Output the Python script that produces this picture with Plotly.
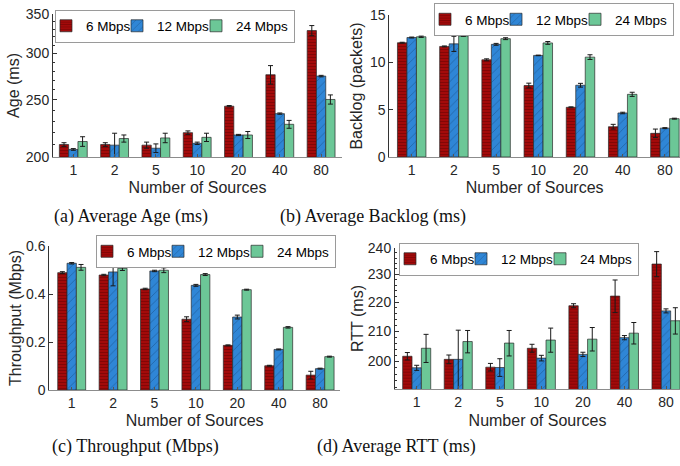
import plotly.graph_objects as go
import math

categories = ["1", "2", "5", "10", "20", "40", "80"]
series_names = ["6 Mbps", "12 Mbps", "24 Mbps"]

age_6 = [210, 210, 209.5, 220, 244, 276, 328]
age_6_err = [1.5, 1.5, 2.5, 1.5, 0.6, 10, 6.5]
age_12 = [206, 209.5, 207, 211, 218, 237, 274.5]
age_12_err = [0.7, 10, 3.5, 1, 0.5, 0.6, 0.8]
age_24 = [212.5, 215, 215.5, 216, 218, 227.3, 250.5]
age_24_err = [4, 3, 4, 3.5, 3, 3.5, 4.5]

bl_6 = [12.07, 11.68, 10.27, 7.55, 5.25, 3.2, 2.5]
bl_6_err = [0.05, 0.05, 0.1, 0.25, 0.05, 0.25, 0.45]
bl_12 = [12.62, 11.95, 11.9, 10.73, 7.58, 4.65, 3.05]
bl_12_err = [0.05, 0.8, 0.1, 0.03, 0.2, 0.08, 0.05]
bl_24 = [12.7, 12.78, 12.5, 12.05, 10.55, 6.62, 4.05]
bl_24_err = [0.07, 0.03, 0.1, 0.15, 0.25, 0.22, 0.05]

tp_6 = [0.489, 0.479, 0.421, 0.295, 0.186, 0.101, 0.062]
tp_6_err = [0.004, 0.003, 0.003, 0.01, 0.002, 0.002, 0.016]
tp_12 = [0.528, 0.492, 0.496, 0.436, 0.304, 0.169, 0.089]
tp_12_err = [0.003, 0.058, 0.003, 0.004, 0.008, 0.002, 0.002]
tp_24 = [0.511, 0.507, 0.499, 0.481, 0.418, 0.261, 0.139]
tp_24_err = [0.012, 0.009, 0.01, 0.004, 0.002, 0.003, 0.002]

rtt_6 = [201.7, 200.7, 198.2, 204.3, 218.7, 222.1, 233.8]
rtt_6_err = [1.2, 1.4, 1.2, 1.3, 0.7, 5.8, 4.7]
rtt_12 = [198.0, 200.7, 198.1, 201.1, 202.3, 207.8, 216.9]
rtt_12_err = [0.8, 9.6, 2.8, 0.9, 0.7, 0.7, 0.7]
rtt_24 = [204.3, 206.5, 206.0, 207.0, 207.3, 209.3, 213.5]
rtt_24_err = [4.6, 3.7, 4.2, 4.0, 3.9, 3.6, 4.5]

captions = ["(a) Average Age (ms)", "(b) Average Backlog (ms)",
            "(c) Throughput (Mbps)", "(d) Average RTT (ms)"]
y_titles = ["Age (ms)", "Backlog (packets)", "Throughput (Mbps)", "RTT (ms)"]
x_title = "Number of Sources"

W, H = 680, 466
FONT = "Liberation Sans, Arial, sans-serif"
colors = ["#A30A0A", "#2F86D6", "#6CC797"]
patterns = [dict(shape="-", size=3, solidity=0.25, fgcolor="#4d0000"),
            dict(shape="/", size=6, solidity=0.12, fgcolor="#123a66"),
            dict(shape="", fgcolor="#6CC797")]
legend_widths = [36, 44, None]

panels = [
    (age_6, age_6_err, age_12, age_12_err, age_24, age_24_err),
    (bl_6, bl_6_err, bl_12, bl_12_err, bl_24, bl_24_err),
    (tp_6, tp_6_err, tp_12, tp_12_err, tp_24, tp_24_err),
    (rtt_6, rtt_6_err, rtt_12, rtt_12_err, rtt_24, rtt_24_err),
]

fig = go.Figure()
for p, data in enumerate(panels):
    suffix = "" if p == 0 else str(p + 1)
    for s in range(3):
        vals = data[2 * s]
        errs = data[2 * s + 1]
        tr = dict(
            x=categories, y=vals, name=series_names[s],
            xaxis="x" + suffix, yaxis="y" + suffix,
            legend="legend" + suffix,
            marker=dict(color=colors[s], line=dict(color="#2a2a2a", width=0.7),
                        pattern=patterns[s]),
            error_y=dict(type="data", array=errs, visible=True,
                         color="#1a1a1a", thickness=1, width=2.5),
        )
        if legend_widths[s] is not None:
            tr["legendwidth"] = legend_widths[s]
        fig.add_trace(go.Bar(**tr))

def px_x(v):
    return v / W

def px_y(v):
    return 1 - v / H

# panel geometry in pixels: (left, right, top, bottom, first-center, spacing)
geo = [
    (53, 342, 14, 157, 73.3, 41.3),
    (389.3, 680, 15, 157, 411.7, 42.2),
    (49.3, 340, 246, 390, 71.7, 41.4),
    (395, 680, 247.7, 389.3, 416.7, 41.55),
]
yranges = [
    [math.log10(200), math.log10(350)],
    [0, 15],
    [0, 0.6],
    [math.log10(191.3), math.log10(240)],
]
ytypes = ["log", "linear", "linear", "log"]
ytickvals = [[200, 250, 300, 350], [0, 5, 10, 15], [0, 0.2, 0.4, 0.6],
             [200, 210, 220, 230, 240]]
yticktext = [["200", "250", "300", "350"], ["0", "5", "10", "15"],
             ["0", "0.2", "0.4", "0.6"], ["200", "210", "220", "230", "240"]]
yminor = [list(range(200, 351, 10)), None, None, list(range(192, 241, 2))]
ytitle_standoff = [2, 3, 0, 0]

layout = dict(
    width=W, height=H, margin=dict(l=0, r=0, t=0, b=0),
    paper_bgcolor="white", plot_bgcolor="white",
    barmode="group", bargap=0.325, bargroupgap=0,
    font=dict(family=FONT, size=14, color="#262626"),
)

for p in range(4):
    suffix = "" if p == 0 else str(p + 1)
    l, r, t, b, c0, sp = geo[p]
    xr = [(l - c0) / sp, (r - c0) / sp]
    xa = dict(
        domain=[px_x(l), px_x(r)], anchor="y" + suffix, range=xr,
        type="category", showline=True, linecolor="#8c8c8c", linewidth=1,
        ticks="inside", ticklen=3, tickcolor="#555", mirror=False,
        tickfont=dict(size=14, family=FONT, color="#262626"),
        title=dict(text=x_title, font=dict(size=16, family=FONT, color="#262626"),
                   standoff=5),
        automargin=False, showgrid=False, zeroline=False, fixedrange=True,
    )
    ya = dict(
        domain=[px_y(b), px_y(t)], anchor="x" + suffix, type=ytypes[p],
        range=yranges[p], showline=True, linecolor="#333", linewidth=1,
        ticks="inside", ticklen=4, tickcolor="#333",
        tickvals=ytickvals[p], ticktext=yticktext[p],
        tickfont=dict(size=14, family=FONT, color="#262626"),
        title=dict(text=y_titles[p], font=dict(size=16, family=FONT, color="#262626"),
                   standoff=ytitle_standoff[p]),
        automargin=False, showgrid=False, zeroline=False, fixedrange=True,
    )
    if yminor[p] is not None:
        ya["minor"] = dict(tickvals=yminor[p], ticks="inside", ticklen=2,
                           tickcolor="#333", showgrid=False)
    layout["xaxis" + suffix] = xa
    layout["yaxis" + suffix] = ya

legend_pos = [
    dict(x=px_x(55), y=px_y(26), xanchor="left", yanchor="middle"),
    dict(x=px_x(674), y=px_y(19.5), xanchor="right", yanchor="middle"),
    dict(x=px_x(336), y=px_y(251.5), xanchor="right", yanchor="middle"),
    dict(x=px_x(399), y=px_y(259), xanchor="left", yanchor="middle"),
]
for p in range(4):
    suffix = "" if p == 0 else str(p + 1)
    lg = dict(orientation="h", bgcolor="white", bordercolor="#9a9a9a", borderwidth=1,
              font=dict(size=13.5, family=FONT, color="#000"),
              xref="paper", yref="paper", tracegroupgap=0, itemclick=False,
              itemdoubleclick=False, indentation=-10)
    lg.update(legend_pos[p])
    layout["legend" + suffix] = lg

cap_pos = [(131, 216), (373, 216), (135, 446), (396, 446)]
annotations = []
for p in range(4):
    cx, cy = cap_pos[p]
    annotations.append(dict(
        text=captions[p], x=px_x(cx), y=px_y(cy), xref="paper", yref="paper",
        xanchor="center", yanchor="middle", showarrow=False,
        font=dict(family="Liberation Serif, Times New Roman, serif", size=18, color="#111"),
    ))
layout["annotations"] = annotations

fig.update_layout(**layout)
fig.write_html("out.html", config={"displayModeBar": False},
               post_script="document.body.style.margin='0';document.body.style.padding='0';")
